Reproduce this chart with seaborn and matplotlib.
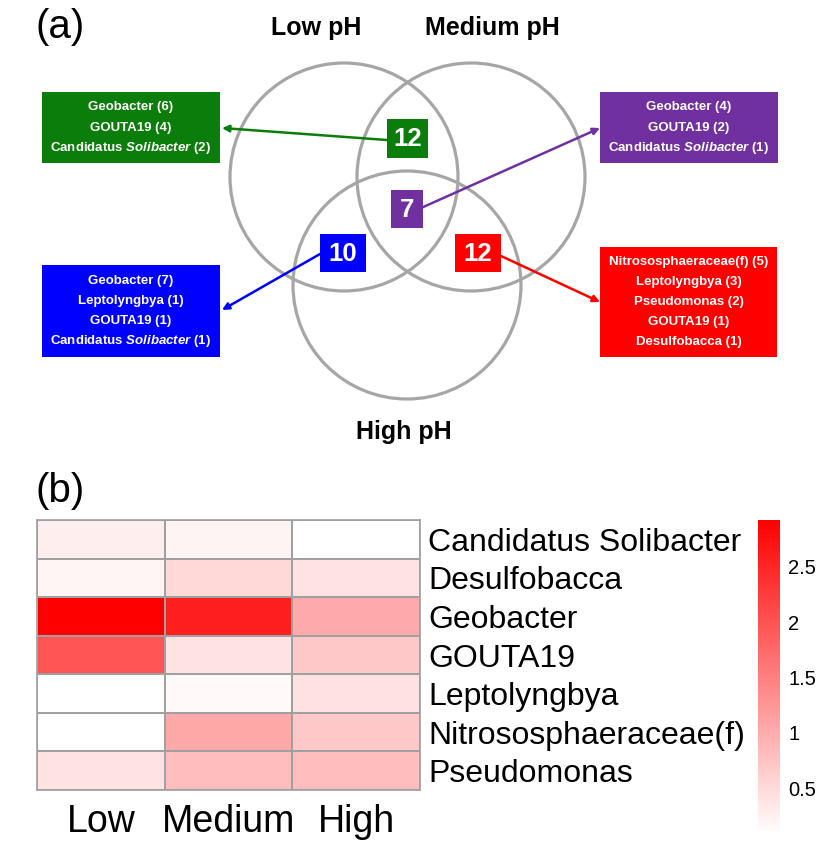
import numpy as np
import pandas as pd
import matplotlib.pyplot as plt
import seaborn as sb
from matplotlib.patches import Circle, Rectangle
from matplotlib.colors import LinearSegmentedColormap

# heatmap data (log abundance-ish values)
genera = ['Candidatus Solibacter', 'Desulfobacca', 'Geobacter', 'GOUTA19',
          'Leptolyngbya', 'Nitrososphaeraceae(f)', 'Pseudomonas']
ph_levels = ['Low', 'Medium', 'High']
low_vals = [0.27, 0.19, 2.925, 1.975, 0.075, 0.075, 0.40]
medium_vals = [0.20, 0.51, 2.57, 0.40, 0.15, 1.045, 0.82]
high_vals = [0.075, 0.40, 1.025, 0.69, 0.42, 0.69, 0.82]
cbar_ticks = [0.5, 1, 1.5, 2, 2.5]
cbar_labels = ['0.5', '1', '1.5', '2', '2.5']

# venn data
venn_sets = ['Low pH', 'Medium pH', 'High pH']
region_counts = [12, 7, 10, 12]
green_list = [('Geobacter', 6), ('GOUTA19', 4), ('Candidatus Solibacter', 2)]
purple_list = [('Geobacter', 4), ('GOUTA19', 2), ('Candidatus Solibacter', 1)]
blue_list = [('Geobacter', 7), ('Leptolyngbya', 1), ('GOUTA19', 1), ('Candidatus Solibacter', 1)]
red_list = [('Nitrososphaeraceae(f)', 5), ('Leptolyngbya', 3), ('Pseudomonas', 2),
            ('GOUTA19', 1), ('Desulfobacca', 1)]

sb.set_style('white')
plt.rcParams['font.family'] = ['Liberation Sans', 'DejaVu Sans']
plt.rcParams['text.color'] = 'black'
plt.rcParams['xtick.color'] = 'black'
plt.rcParams['ytick.color'] = 'black'
plt.rcParams['mathtext.fontset'] = 'custom'
plt.rcParams['mathtext.it'] = 'Liberation Sans:italic:bold'
plt.rcParams['mathtext.rm'] = 'Liberation Sans:bold'

fig = plt.figure(figsize=(8.39, 8.47), dpi=100)

# ---- (a) venn, drawn in pixel coords
ax = fig.add_axes([0, 0, 1, 1])
ax.set_xlim(0, 839)
ax.set_ylim(847, 0)
ax.axis('off')

for cx, cy in [(344, 177), (471, 177), (407, 285)]:
    ax.add_patch(Circle((cx, cy), 114, fill=False, ec='#a6a6a6', lw=2.3))

ax.text(35, 27, '(a)', fontsize=29, va='center', ha='left')
ax.text(316, 28, venn_sets[0], fontsize=18, fontweight='bold', ha='center', va='center')
ax.text(492, 28, venn_sets[1], fontsize=18, fontweight='bold', ha='center', va='center')
ax.text(404, 432, venn_sets[2], fontsize=18, fontweight='bold', ha='center', va='center')

colors = ['#0a7d0a', '#7030a0', '#0000ff', '#ff0000']
num_boxes = [(387, 119, 41, 39), (391, 190, 32, 38), (320, 234, 46, 38), (455, 234, 46, 38)]
for (x, y, w, h), n, c in zip(num_boxes, region_counts, colors):
    ax.add_patch(Rectangle((x, y), w, h, fc=c, ec='none'))
    ax.text(x + w / 2, y + h / 2 + 1, str(n), color='white', fontsize=18.5,
            fontweight='bold', ha='center', va='center')

lists = [green_list, purple_list, blue_list, red_list]
list_boxes = [(42, 92, 178, 71), (600, 92, 178, 71), (42, 265, 178, 92), (600, 247, 177, 110)]
for (x, y, w, h), items, c in zip(list_boxes, lists, colors):
    ax.add_patch(Rectangle((x, y), w, h, fc=c, ec='none'))
    n = len(items)
    y0 = y + h / 2 - (n - 1) * 20.2 / 2
    for i, (name, cnt) in enumerate(items):
        if name.startswith('Candidatus '):
            s = 'Candidatus $\\mathit{' + name.split(' ')[1] + '}$ (%d)' % cnt
        else:
            s = '%s (%d)' % (name, cnt)
        ax.text(x + w / 2, y0 + i * 20.2, s, color='white', fontsize=9.5,
                fontweight='bold', ha='center', va='center')

arrows = [((387, 140), (222, 128)), ((421, 208), (600, 128)),
          ((320, 254), (222, 310)), ((501, 256), (600, 302))]
for (start, tip), c in zip(arrows, colors):
    ax.annotate('', xy=tip, xytext=start,
                arrowprops=dict(arrowstyle='-|>', color=c, lw=1.8, mutation_scale=10,
                                shrinkA=0, shrinkB=0))

ax.text(35, 491, '(b)', fontsize=29, va='center', ha='left')

# ---- (b) heatmap
df = pd.DataFrame({'Low': low_vals, 'Medium': medium_vals, 'High': high_vals}, index=genera)
cmap = LinearSegmentedColormap.from_list('wr', ['#ffffff', '#ff0000'])

W, H = 839, 847
ax_hm = fig.add_axes([37 / W, 1 - 790 / H, 383 / W, 270 / H])
cax = fig.add_axes([758 / W, 1 - 835 / H, 22 / W, 315 / H])
sb.heatmap(df, ax=ax_hm, cbar_ax=cax, cmap=cmap, vmin=0.075, vmax=2.925,
           linewidths=1.2, linecolor='#a0a0a0')
for sp in ax_hm.spines.values():
    sp.set_visible(True)
    sp.set_color('#a0a0a0')
    sp.set_linewidth(1.2)
ax_hm.set_xticklabels(ph_levels, fontsize=27, rotation=0)
ax_hm.yaxis.tick_right()
ax_hm.set_yticklabels(genera, fontsize=23, rotation=0, ha='left')
ax_hm.tick_params(axis='x', length=0, pad=10)
ax_hm.tick_params(axis='y', length=0, pad=6)
ax_hm.set_xlabel('')
ax_hm.set_ylabel('')

cbar = ax_hm.collections[0].colorbar
cbar.set_ticks(cbar_ticks)
cbar.set_ticklabels(cbar_labels)
cbar.ax.tick_params(length=0, labelsize=14.5, pad=6)
cbar.outline.set_visible(False)

plt.savefig('out.png', dpi=100)
